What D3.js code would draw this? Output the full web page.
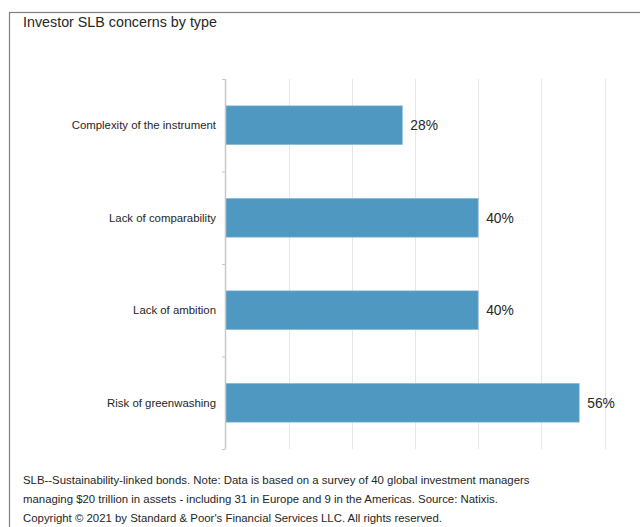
<!DOCTYPE html>
<html>
<head>
<meta charset="utf-8">
<script src="https://cdn.jsdelivr.net/npm/d3@7"></script>
<style>
  html, body { margin: 0; padding: 0; background: #fff; }
  svg { display: block; font-family: "Liberation Sans", Arial, sans-serif; }
</style>
</head>
<body>
<svg id="chart" width="640" height="527"></svg>
<script>
// Survey results: share of investors citing each concern about SLBs
const categories = [
  "Complexity of the instrument",
  "Lack of comparability",
  "Lack of ambition",
  "Risk of greenwashing"
];
const values = [28, 40, 40, 56];
const gridTicks = [10, 20, 30, 40, 50, 60, 70];

const title = "Investor SLB concerns by type";
const notes = [
  "SLB--Sustainability-linked bonds. Note: Data is based on a survey of 40 global investment managers",
  "managing $20 trillion in assets - including 31 in Europe and 9 in the Americas. Source: Natixis.",
  "Copyright \u00A9 2021 by Standard & Poor's Financial Services LLC. All rights reserved."
];

const svg = d3.select("#chart");

// outer frame (runs past the right edge)
svg.append("rect")
  .attr("x", 9.5).attr("y", 12.5)
  .attr("width", 700).attr("height", 600)
  .attr("fill", "none")
  .attr("stroke", "#808080")
  .attr("stroke-width", 1.2);

svg.append("text")
  .attr("x", 23).attr("y", 27)
  .attr("font-size", 14.3)
  .attr("fill", "#262626")
  .text(title);

const x = d3.scaleLinear().domain([0, 60]).range([225.5, 604.5]);
const y = d3.scaleBand().domain(categories).range([79, 449]).paddingInner(0.58).paddingOuter(0.29);
const yOuter = d3.scaleBand().domain(categories).range([79, 449]);

// vertical gridlines
svg.append("g")
  .selectAll("line")
  .data(gridTicks)
  .join("line")
  .attr("x1", d => Math.round(x(d)) + 0.5)
  .attr("x2", d => Math.round(x(d)) + 0.5)
  .attr("y1", 79).attr("y2", 449)
  .attr("stroke", "#e6e6e6")
  .attr("stroke-width", 1);

// bars
svg.append("g")
  .selectAll("rect")
  .data(values)
  .join("rect")
  .attr("x", x(0))
  .attr("y", (d, i) => y(categories[i]))
  .attr("width", d => x(d) - x(0))
  .attr("height", y.bandwidth())
  .attr("fill", "#4f98c2")
  .attr("stroke", "#8fc0dd")
  .attr("stroke-width", 0.6);

// category axis with ticks between bands
const axisG = svg.append("g");
axisG.append("line")
  .attr("x1", 225.5).attr("x2", 225.5)
  .attr("y1", 79).attr("y2", 449)
  .attr("stroke", "#c8c8c8").attr("stroke-width", 1.5);
const boundaries = categories.map(c => yOuter(c)).concat([449]);
axisG.selectAll("line.tick")
  .data(boundaries)
  .join("line")
  .attr("class", "tick")
  .attr("x1", 222).attr("x2", 225.5)
  .attr("y1", d => d + 0.5).attr("y2", d => d + 0.5)
  .attr("stroke", "#c8c8c8").attr("stroke-width", 1);

axisG.selectAll("text")
  .data(categories)
  .join("text")
  .attr("x", 216)
  .attr("y", d => yOuter(d) + yOuter.bandwidth() / 2)
  .attr("dy", "0.35em")
  .attr("text-anchor", "end")
  .attr("font-size", 11.4)
  .attr("fill", "#262626")
  .text(d => d);

// value labels
svg.append("g")
  .selectAll("text")
  .data(values)
  .join("text")
  .attr("x", d => x(d) + 8)
  .attr("y", (d, i) => yOuter(categories[i]) + yOuter.bandwidth() / 2)
  .attr("dy", "0.35em")
  .attr("font-size", 13.8)
  .attr("fill", "#262626")
  .text(d => d + "%");

// footnote
svg.append("g")
  .selectAll("text")
  .data(notes)
  .join("text")
  .attr("x", 23)
  .attr("y", (d, i) => 484 + i * 19)
  .attr("font-size", 11.4)
  .attr("fill", "#262626")
  .text(d => d);
</script>
</body>
</html>
